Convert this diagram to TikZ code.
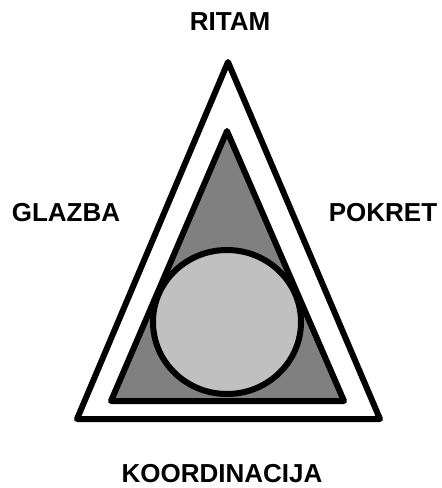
\documentclass[tikz,border=0pt]{standalone}
\usepackage{fontspec}
\setmainfont{Liberation Sans}
\usetikzlibrary{positioning}
\definecolor{tamnosiva}{RGB}{128,128,128}
\definecolor{svijetlosiva}{RGB}{192,192,192}

\begin{document}
\begin{tikzpicture}[x=1pt,y=-1pt,
  lbl/.style={font=\fontsize{26}{30}\selectfont\bfseries, inner sep=0pt},
  rub/.style={line width=6pt, line join=round}]
\useasboundingbox (0,0) rectangle (442,488);
% vanjski trokut
\draw[rub, fill=white] (228,62)--(380,419)--(77,419)--cycle;
% unutarnji trokut
\draw[rub, fill=tamnosiva] (227,131)--(344,401)--(111,401)--cycle;
% krug
\draw[rub, fill=svijetlosiva] (227,322) ellipse[x radius=74, y radius=72];
\node[lbl] (ritam) at (230,22){RITAM};
\node[lbl] (glazba) at (66,213){GLAZBA};
\node[lbl] (pokret) at (383,213){POKRET};
\node[lbl] (koord) at (222,474){KOORDINACIJA};
\end{tikzpicture}
\end{document}
